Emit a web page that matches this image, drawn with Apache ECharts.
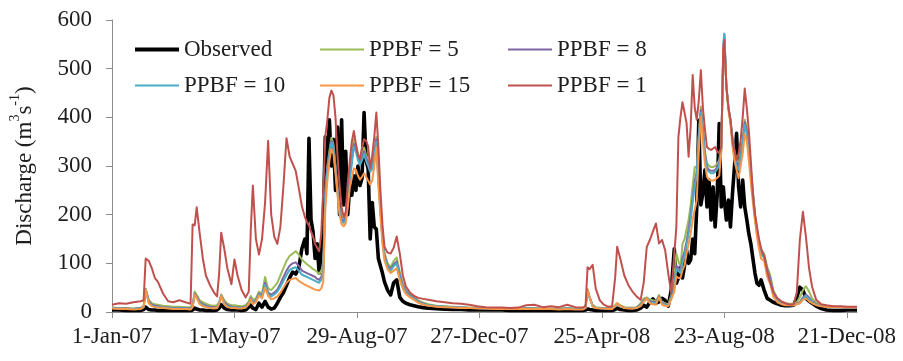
<!DOCTYPE html>
<html>
<head>
<meta charset="utf-8">
<script src="https://cdn.jsdelivr.net/npm/echarts@6/dist/echarts.min.js"></script>
<style>
  html, body { margin: 0; padding: 0; background: #ffffff; }
  #chart { width: 903px; height: 361px; }
</style>
</head>
<body>
<div id="chart"></div>
<script>
// Day offsets from 1 January 2007 at which discharge is listed.
const days = [
  0, 7, 14, 21, 28,
  31, 33, 36, 39, 42, 45, 50, 55, 60, 66, 72, 77,
  79, 81, 83, 86, 89, 92, 96, 100, 103,
  105, 107, 110, 113, 117, 120, 123, 127, 131, 134,
  136, 138, 141, 144, 147, 150, 153, 156, 159, 162, 165, 168, 171, 174, 177, 180, 183, 186, 189,
  191, 193, 195, 197, 199, 201, 203, 205, 207, 209, 211, 213, 215, 217, 219, 221, 223, 225, 227, 229,
  231, 233, 235, 237, 239, 241, 243, 245, 247, 249, 251, 253, 255, 257, 259, 261, 263, 265, 267,
  270, 273, 276, 279, 282, 285, 288, 292, 296, 300, 305, 310,
  318, 326, 334, 342, 350, 358, 366, 374, 382, 390, 398, 406, 414, 422, 430, 438, 446, 454, 461,
  464, 466, 468, 471, 474, 478, 482, 486, 490, 493, 495, 498, 502, 506, 510, 514, 518, 521, 524, 527,
  530, 533, 536, 539, 542, 545, 548, 551,
  553, 555, 557, 559, 561, 563, 565, 567, 569, 571, 573, 575, 577, 579, 581, 583, 585, 587, 589, 591,
  593, 595, 597, 599,
  600,
  602, 604, 606, 608, 610, 612, 614, 616, 618, 620, 622, 624, 626, 628, 630, 632, 634, 636,
  639, 642, 645, 648, 652, 656, 660, 664, 668,
  671, 674, 677, 680, 683, 686, 690, 695, 700, 707, 714, 721, 730
];

// Discharge in m3/s, one value per entry of `days`.
const observed = [
  4, 4, 3, 3, 3,
  5, 10, 5, 4, 4, 3, 3, 3, 3, 3, 3, 3,
  4, 8, 6, 4, 4, 3, 3, 3, 4,
  8, 15, 8, 5, 4, 4, 4, 3, 4, 10,
  14, 8, 5, 18, 10, 22, 10, 6, 8, 18, 30, 40, 55, 70, 82, 78, 90, 130, 150,
  120, 357, 190, 165, 110, 140, 80, 125, 180, 360, 290, 395, 300, 355, 250, 380, 200, 395, 220, 330,
  200, 260, 240, 280, 250, 300, 260, 275, 410, 310, 295, 150, 225, 175, 170, 110, 95, 80, 62,
  45, 35, 60, 66, 30, 22, 18, 15, 13, 11, 9, 8,
  7, 6, 5, 5, 4, 4, 4, 4, 4, 3, 3, 3, 3, 3, 3, 3, 3, 3, 3,
  4, 6, 5, 4, 3, 3, 3, 3, 3, 5, 8, 5, 4, 3, 3, 4, 8, 14, 10, 20,
  27, 18, 21, 28, 24, 12, 45, 130,
  59, 70, 93, 70, 95, 127, 100, 107, 150, 120, 216, 394, 220, 244, 292, 216, 271, 189, 257, 175,
  240, 387, 216, 257,
  230,
  189, 230, 175, 244, 300, 367, 257, 216, 271, 216, 190, 161, 140, 110, 80, 59, 55, 66,
  45, 28, 24, 20, 17, 14, 13, 13, 14,
  30, 51, 45, 28, 22, 18, 12, 7, 4, 3, 3, 4, 4
];

const ppbf5 = [
  9, 8, 8, 7, 9,
  12, 48, 25, 18, 16, 15, 13, 12, 11, 11, 10, 10,
  15, 42, 35, 24, 20, 17, 14, 13, 14,
  20, 36, 24, 17, 14, 14, 13, 12, 14, 22,
  33, 25, 28, 42, 38, 72, 48, 45, 52, 60, 75, 90, 105, 115, 120, 125, 118, 108, 102,
  98, 95, 92, 88, 86, 82, 78, 85, 95, 250, 300, 330, 358, 345, 300, 255, 215, 195, 192, 200,
  240, 285, 320, 355, 345, 325, 315, 325, 338, 322, 312, 300, 305, 330, 360, 285, 220, 160, 122,
  100, 92, 105, 112, 82, 58, 45, 36, 30, 24, 19, 16,
  13, 12, 11, 10, 9, 9, 8, 8, 8, 7, 7, 8, 8, 7, 7, 7, 8, 7, 7,
  10, 45, 30, 14, 10, 9, 8, 8, 9, 14, 18, 14, 10, 9, 9, 10, 18, 28, 30, 25,
  24, 22, 35, 20, 18, 15, 35, 70,
  120, 105, 93, 140, 150, 170, 189, 220, 260, 298, 298, 367, 422, 380, 330, 306, 300, 298, 298, 300,
  305, 312, 340, 520,
  566,
  463, 420, 394, 360, 330, 312, 306, 330, 353, 395, 380, 340, 295, 250, 203, 170, 145, 127,
  120, 93, 75, 45, 28, 20, 18, 17, 17,
  20, 30, 45, 53, 42, 28, 19, 14, 12, 11, 10, 10, 10
];

const ppbf8 = [
  8, 7, 7, 6, 8,
  10, 46, 22, 15, 13, 12, 10, 9, 8, 8, 8, 7,
  12, 38, 32, 20, 16, 13, 11, 10, 10,
  18, 34, 20, 14, 11, 10, 10, 9, 11, 18,
  28, 20, 24, 38, 33, 60, 40, 36, 40, 46, 58, 72, 85, 95, 100, 102, 95, 85, 82,
  80, 78, 76, 74, 72, 68, 66, 72, 85, 240, 295, 325, 352, 340, 295, 250, 210, 190, 187, 195,
  232, 278, 312, 345, 335, 318, 308, 318, 330, 316, 306, 292, 298, 324, 355, 278, 212, 152, 116,
  96, 88, 98, 104, 76, 54, 42, 34, 28, 22, 17, 14,
  12, 11, 10, 9, 8, 8, 7, 7, 7, 7, 6, 7, 7, 6, 6, 6, 7, 6, 6,
  9, 45, 30, 13, 9, 8, 7, 7, 7, 12, 17, 12, 9, 8, 8, 9, 15, 24, 28, 22,
  21, 20, 32, 18, 16, 14, 30, 55,
  95, 90, 85, 110, 125, 145, 170, 200, 235, 270, 285, 360, 415, 375, 325, 298, 292, 290, 290, 292,
  298, 305, 335, 540,
  570,
  465, 420, 394, 356, 325, 305, 298, 322, 348, 390, 372, 332, 288, 245, 200, 168, 140, 122,
  115, 88, 70, 40, 25, 18, 16, 15, 15,
  17, 20, 30, 36, 30, 22, 16, 13, 11, 10, 10, 9, 9
];

const ppbf10 = [
  8, 7, 6, 6, 7,
  10, 45, 20, 13, 11, 10, 9, 8, 7, 7, 7, 6,
  11, 36, 30, 18, 14, 11, 9, 8, 9,
  17, 33, 18, 12, 9, 9, 8, 8, 10, 17,
  27, 18, 22, 36, 31, 56, 37, 32, 36, 42, 52, 64, 76, 86, 90, 92, 85, 77, 74,
  72, 70, 68, 66, 64, 62, 60, 66, 80, 235, 290, 320, 348, 336, 292, 245, 205, 185, 183, 190,
  228, 272, 305, 340, 330, 312, 302, 312, 325, 310, 300, 288, 294, 320, 350, 272, 208, 148, 112,
  92, 85, 94, 100, 72, 52, 40, 32, 27, 21, 16, 14,
  12, 11, 10, 9, 8, 8, 7, 7, 7, 6, 6, 7, 7, 6, 6, 6, 7, 6, 6,
  9, 46, 30, 12, 9, 8, 7, 7, 7, 12, 17, 12, 8, 8, 7, 8, 14, 22, 27, 20,
  19, 18, 30, 17, 15, 13, 28, 50,
  88, 85, 80, 100, 115, 138, 160, 190, 225, 260, 280, 355, 410, 370, 320, 292, 288, 285, 285, 288,
  294, 300, 330, 550,
  572,
  466, 420, 394, 352, 320, 300, 292, 318, 343, 385, 365, 325, 282, 240, 195, 165, 138, 118,
  112, 85, 66, 38, 24, 17, 15, 14, 14,
  16, 18, 27, 33, 27, 20, 15, 13, 11, 10, 10, 9, 9
];

const ppbf15 = [
  7, 6, 6, 5, 6,
  10, 45, 18, 12, 10, 9, 8, 7, 6, 6, 6, 5,
  10, 36, 28, 16, 12, 10, 8, 7, 8,
  17, 33, 16, 10, 8, 8, 7, 7, 9, 16,
  26, 16, 20, 34, 28, 50, 33, 26, 28, 32, 40, 50, 60, 66, 68, 70, 64, 60, 56,
  54, 52, 50, 48, 46, 45, 44, 48, 62, 210, 270, 310, 335, 325, 285, 240, 200, 180, 176, 182,
  215, 255, 275, 295, 292, 280, 272, 278, 285, 278, 270, 262, 270, 300, 338, 262, 200, 140, 106,
  88, 80, 85, 90, 66, 48, 37, 30, 25, 19, 15, 13,
  11, 10, 9, 8, 8, 7, 7, 6, 6, 6, 6, 6, 6, 6, 6, 5, 6, 5, 5,
  8, 47, 30, 11, 8, 7, 7, 6, 6, 12, 18, 12, 8, 7, 7, 8, 12, 21, 28, 18,
  16, 15, 30, 15, 13, 12, 26, 42,
  73, 70, 70, 86, 95, 120, 140, 161, 190, 210, 230, 330, 401, 350, 305, 278, 272, 270, 270, 272,
  276, 280, 326, 540,
  559,
  463, 415, 387, 340, 310, 292, 275, 300, 326, 365, 352, 312, 265, 225, 189, 155, 130, 110,
  105, 72, 58, 31, 20, 16, 14, 14, 14,
  16, 18, 25, 28, 22, 18, 14, 12, 11, 10, 10, 9, 9
];

const ppbf1 = [
  15, 18, 17, 20, 22,
  24, 110, 105, 90, 70, 62, 38, 22, 20, 24, 20, 17,
  180, 178, 215, 160, 110, 75, 55, 40, 32,
  80, 163, 130, 90, 57, 108, 75, 45, 30, 42,
  170, 260, 150, 118, 150, 225, 352, 200, 155, 140, 175, 260, 357, 320, 305, 290, 255, 218, 195,
  185, 178, 165, 155, 140, 132, 125, 160, 250, 360, 395, 440, 455, 445, 400, 320, 260, 215, 195, 205,
  265, 310, 350, 372, 345, 322, 315, 338, 355, 352, 340, 295, 322, 360, 410, 340, 250, 180, 134,
  122, 120, 132, 155, 120, 75, 52, 40, 33, 29, 27, 25,
  22, 20, 18, 17, 15, 12, 10, 9, 9, 8, 9, 14, 15, 10, 12, 10, 15, 10, 9,
  12, 92, 88, 97, 48, 24, 15, 11, 12, 70, 134, 110, 75, 55, 42, 32, 25, 60, 134, 148,
  165, 182, 141, 148, 127, 80, 39, 120,
  175, 360, 400, 431, 410, 388, 319, 380, 487, 420, 395, 435, 497, 420, 375, 339, 335, 333, 336, 339,
  330, 326, 339, 540,
  559,
  463, 420, 395, 350, 330, 312, 325, 353, 400, 459, 420, 373, 310, 240, 200, 175, 150, 131,
  115, 85, 60, 40, 28, 22, 18, 15, 16,
  40, 148, 206, 154, 90, 52, 25, 16, 14, 12, 12, 11, 11
];

// Axis ticks: dates every 120 days, discharge every 100.
const dateTicks = [0, 120, 240, 360, 480, 600, 720];
const yMin = 0, yMax = 600, yStep = 100;

const FONT = '"Liberation Serif", "Times New Roman", serif';
const TEXT = '#1e1e1e';
const AXIS = '#8c8c8c';
const START = Date.UTC(2007, 0, 1);
const MONTHS = ['Jan', 'Feb', 'Mar', 'Apr', 'May', 'Jun', 'Jul', 'Aug', 'Sep', 'Oct', 'Nov', 'Dec'];

function dateLabel(d) {
  const t = new Date(START + d * 86400000);
  return t.getUTCDate() + '-' + MONTHS[t.getUTCMonth()] + '-' + String(t.getUTCFullYear()).slice(2);
}

function pairs(vals) {
  return days.map((d, i) => [d, vals[i]]);
}

// Legend keys are plain strokes: the observed one thicker than the simulated ones.
const THICK_KEY = 'path://M0,0H44V4H0Z';
const THIN_KEY = 'path://M0,0H44V2H0Z';

const lines = [
  { name: 'Observed',  vals: observed, color: '#000000', width: 3.6, key: THICK_KEY },
  { name: 'PPBF = 5',  vals: ppbf5,    color: '#9bbb59', width: 2, key: THIN_KEY },
  { name: 'PPBF = 8',  vals: ppbf8,    color: '#8064a2', width: 2, key: THIN_KEY },
  { name: 'PPBF = 10', vals: ppbf10,   color: '#4bacc6', width: 2, key: THIN_KEY },
  { name: 'PPBF = 15', vals: ppbf15,   color: '#f79646', width: 2, key: THIN_KEY },
  { name: 'PPBF = 1',  vals: ppbf1,    color: '#c0504d', width: 2, key: THIN_KEY }
];

function legendItems(names) {
  return names.map(n => {
    const s = lines.find(l => l.name === n);
    return { name: n, icon: s.key, itemStyle: { color: s.color, borderWidth: 0 } };
  });
}

const legendBase = {
  orient: 'vertical',
  top: 38,
  padding: 0,
  itemGap: 13,
  itemWidth: 44,
  itemHeight: 14,
  symbolKeepAspect: true,
  textStyle: { fontFamily: FONT, fontSize: 23, color: TEXT },
  selectedMode: false
};

const chart = echarts.init(document.getElementById('chart'), null, { renderer: 'canvas' });
chart.setOption({
  animation: false,
  backgroundColor: '#ffffff',
  grid: { left: 109, right: 46, top: 20, bottom: 49 },
  legend: [
    Object.assign({ left: 135, data: legendItems(['Observed', 'PPBF = 10']) }, legendBase),
    Object.assign({ left: 320, data: legendItems(['PPBF = 5', 'PPBF = 15']) }, legendBase),
    Object.assign({ left: 508, data: legendItems(['PPBF = 8', 'PPBF = 1']) }, legendBase)
  ],
  xAxis: {
    type: 'value',
    min: dateTicks[0],
    max: 730,
    interval: 120,
    splitLine: { show: false },
    axisLine: { lineStyle: { color: AXIS, width: 1 } },
    axisTick: { show: true, length: 6, customValues: dateTicks, lineStyle: { color: AXIS } },
    axisLabel: {
      customValues: dateTicks,
      margin: 13,
      fontFamily: FONT, fontSize: 23, color: TEXT,
      formatter: v => (dateTicks.indexOf(v) >= 0 ? dateLabel(v) : '')
    }
  },
  yAxis: {
    type: 'value',
    min: yMin,
    max: yMax,
    interval: yStep,
    splitLine: { show: false },
    axisLine: { show: true, lineStyle: { color: AXIS, width: 1 } },
    axisTick: { show: true, length: 6, lineStyle: { color: AXIS } },
    axisLabel: { margin: 20, fontFamily: FONT, fontSize: 23, color: TEXT },
    name: '{n|Discharge (m}{s|3}{n|s}{s|-1}{n|)}',
    nameLocation: 'middle',
    nameGap: 76,
    nameTextStyle: {
      fontFamily: FONT, color: TEXT,
      rich: {
        n: { fontFamily: FONT, fontSize: 23, color: TEXT, verticalAlign: 'bottom', lineHeight: 28 },
        s: { fontFamily: FONT, fontSize: 14, color: TEXT, verticalAlign: 'top', lineHeight: 28 }
      }
    }
  },
  series: lines.map(s => ({
    name: s.name,
    type: 'line',
    data: pairs(s.vals),
    symbol: 'none',
    showSymbol: false,
    color: s.color,
    lineStyle: { color: s.color, width: s.width, join: 'round' },
    emphasis: { disabled: true }
  }))
});
</script>
</body>
</html>
